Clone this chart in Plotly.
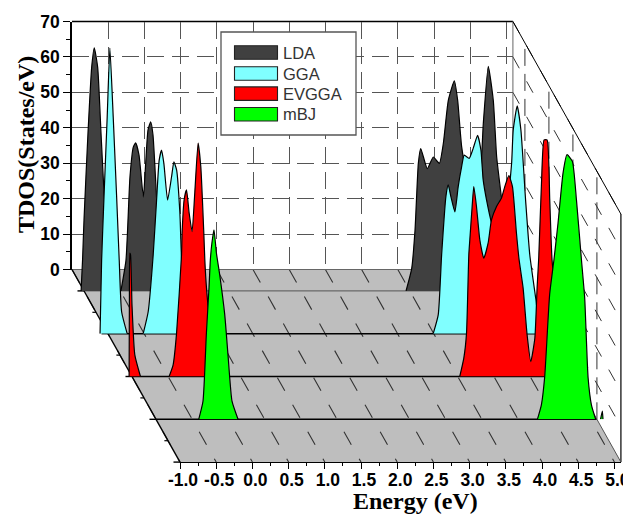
import plotly.graph_objects as go

W, H = 631, 515
BODY = 8

labels = ["LDA", "GGA", "EVGGA", "mBJ"]
colors = ["#404040", "#80FFFF", "#FF0000", "#00FF00"]
layers = [1, 2, 3, 4]

lda_e = [-1.04,-1.02,-1.0,-0.945,-0.894,-0.858,-0.811,-0.765,-0.724,-0.669,-0.60,-0.53,None,-0.49,-0.42,-0.365,-0.319,-0.286,-0.24,-0.18,-0.148,-0.116,-0.079,-0.047,0.004,0.05,0.105,0.16,None,
         3.448,3.526,3.572,3.618,3.651,3.742,3.825,3.908,3.963,4.032,4.115,4.161,4.217,4.30,4.40,4.47,4.515,4.584,4.653,4.70,4.77,4.85,4.95]
lda_v = [0,8.7,20,44.5,63.1,68.6,63.1,44.5,28,11.5,3,0,None,0,8.7,32.2,40.6,41.8,38.3,26.5,36,45.4,47.7,44,25.6,11.5,3,0,None,
         0,6.3,17.1,36,40.2,34.5,37.8,36,41.6,53.8,59.3,53.8,40.6,32,30,32.7,47.2,63.4,53.8,37.8,25.6,10,0]

gga_e = [-1.11,-1.088,-1.057,-1.011,-0.974,-0.928,-0.881,-0.845,-0.812,-0.735,None,-0.514,-0.445,-0.376,-0.329,-0.293,-0.26,-0.228,-0.177,-0.122,-0.09,-0.052,-0.007,0.017,0.06,0.13,0.2,None,
         3.492,3.561,3.608,3.667,3.699,3.736,3.791,3.837,3.884,3.92,3.989,4.044,4.105,4.151,4.182,4.229,4.298,4.413,4.482,4.575,4.597,4.652,4.703,4.768,4.826,4.911,4.965,5.03]
gga_v = [0,20.8,37.7,61.2,80.6,61.2,38.7,20.8,6.2,0,None,0,6.2,22.2,37.7,49,51.8,48,37.7,44.3,48.5,46.2,34,20.8,12,2.5,0,None,
         0,5.3,22.2,38.7,42,38.7,34.4,41.5,47.1,50.4,49.5,52.3,56,51.8,43.4,37.7,31.2,23.6,29.3,48.2,57.5,64.3,57.5,37.7,22.2,9.5,1,0]

evgga_e = [-1.04,-1.036,-1.03,-1.02,-1.0,-0.961,-0.883,None,-0.487,-0.432,-0.385,-0.316,-0.308,-0.28,-0.247,-0.211,-0.17,-0.133,-0.087,-0.05,-0.008,0.006,0.029,0.10,0.185,0.24,None,
           3.527,3.583,3.62,3.652,3.666,3.698,3.721,3.758,3.804,3.859,3.919,3.965,4.035,4.104,4.149,4.205,4.255,4.31,4.347,4.402,4.457,4.508,4.564,4.595,4.618,4.656,4.692,4.733,4.77,4.802,4.91,5.05,5.12]
evgga_v = [0,21.6,34.8,34.3,20.2,6.1,0,None,0,3.3,12.1,34.3,40.6,49.9,52.7,46.2,40.9,51.8,65.9,59.3,40.5,32.9,25,10.4,1.9,0,None,
           0,5.2,12.1,34.3,38.6,48,53.6,48,38.6,33.4,37.7,44.2,48,50.4,53.6,56.7,53.6,40.5,32.9,25,11.8,4.2,10.8,25,33.5,54.6,66.8,66.8,49.9,32.9,13.2,1.9,0]

mbj_e = [-0.41,-0.351,-0.304,-0.268,-0.249,-0.227,-0.199,-0.166,-0.12,-0.051,-0.006,0.05,0.133,None,
         4.268,4.323,4.369,4.437,4.497,4.553,4.622,4.677,4.751,4.807,4.876,4.921,4.968,5.014,5.073,None,5.14,5.165,5.174]
mbj_v = [0,5.1,24.3,37.1,45.1,49.9,53.5,47,40.8,29.6,18.3,5.1,0,None,
         0,4.1,12.1,35.2,45.1,55.4,69.5,74.7,72.8,62,45.1,34.3,11.8,4.1,0,None,0,2.3,0]

series_e = [lda_e, gga_e, evgga_e, mbj_e]
series_v = [lda_v, gga_v, evgga_v, mbj_v]

x_ticks_major = [-1.0,-0.5,0.0,0.5,1.0,1.5,2.0,2.5,3.0,3.5,4.0,4.5,5.0]
y_ticks_major = [0,10,20,30,40,50,60,70]
z_ticks_major = [1,2,3,4,5]
z_ticks_minor = [1.5,2.5,3.5,4.5]

E0, E1 = -1.0, 5.09
Z0, Z1 = 0.5, 5.0
Y1 = 70.0
PX_E = 72.4
PX_V = 248 / 70
X_BACK, Y_BACK = 72.0, 269.5
DX_Z, DY_Z = 24.0, 42.8
FW, FH = W - BODY, H - BODY

def px(e, z):
    return X_BACK + (e - E0) * PX_E + (z - Z0) * DX_Z

def py(v, z):
    return Y_BACK + (z - Z0) * DY_Z - v * PX_V

def fx(p):
    return (p - BODY) / FW

def fy(p):
    return 1 - (p - BODY) / FH

def xdom(a, b, z):
    return [fx(px(a, z)), fx(px(b, z))]

def ydom(top, z):
    return [fy(py(0, z)), fy(py(top, z))]

def seg(e0, v0, z0, e1, v1, z1, color, width, dash=None):
    line = dict(color=color, width=width)
    if dash:
        line["dash"] = dash
    return dict(type="line", xref="paper", yref="paper", layer="below",
                x0=fx(px(e0, z0)), y0=fy(py(v0, z0)),
                x1=fx(px(e1, z1)), y1=fy(py(v1, z1)), line=line)

def poly(points, fill):
    path = "M " + " L ".join(f"{fx(px(e, z))},{fy(py(v, z))}" for e, v, z in points) + " Z"
    return dict(type="path", xref="paper", yref="paper", layer="below", path=path,
                fillcolor=fill, line=dict(width=0))

def box(x0, y0, x1, y1, fill, edge, width):
    return dict(type="rect", xref="paper", yref="paper", layer="above",
                x0=fx(x0), x1=fx(x1), y0=fy(y0), y1=fy(y1), fillcolor=fill,
                line=dict(color=edge, width=width))

shapes = [poly([(E0, 0, Z0), (E1, 0, Z0), (E1, 0, Z1), (E0, 0, Z1)], "#BEBEBE")]
FLOOR_DASH = "15px,16px"
WALL_DASH = "13px,15px"
for e in x_ticks_major:
    shapes.append(seg(e, 0, Z0, e, 0, Z1, "#333333", 1.1, FLOOR_DASH))
for v in y_ticks_major[1:]:
    shapes.append(seg(E1, v, Z0, E1, v, Z1, "#333333", 1.0, WALL_DASH))
for z in z_ticks_major[:-1]:
    shapes.append(seg(E1, 0, z, E1, Y1, z, "#333333", 1.0, "17px,8px"))
for z in z_ticks_major[:-1]:
    shapes.append(seg(E0, 0, z, E1, 0, z, "#555555" if z == 1 else "#000000", 1.0 if z == 1 else 1.6))
shapes += [
    seg(E0, 0, Z0, E1, 0, Z0, "#666666", 1.0),
    seg(E0, Y1, Z0, E1, Y1, Z0, "#000000", 1.5),
    seg(E1, 0, Z0, E1, Y1, Z0, "#666666", 1.0),
    seg(E1, Y1, Z0, E1, Y1, Z1, "#000000", 1.0),
    seg(E1, 0, Z1, E1, Y1, Z1, "#000000", 1.2),
    seg(E1, 0, Z0, E1, 0, Z1, "#555555", 1.0),
    seg(E0, 0, Z0, E0, 0, Z1, "#000000", 1.4),
]
for z in z_ticks_major:
    shapes.append(seg(E0 - 0.09, 0, z, E0, 0, z, "#000000", 1.4))
for z in z_ticks_minor:
    shapes.append(seg(E0 - 0.05, 0, z, E0, 0, z, "#000000", 1.2))

# legend panel
shapes.append(box(221, 32, 356, 135, "white", "#555555", 1.3))
LEG_TOP = [45.7, 66.7, 86.9, 107.5]
annotations = [
    dict(text="TDOS(States/eV)", xref="paper", yref="paper", x=fx(26), y=fy(145), showarrow=False,
         textangle=-90, font=dict(family="Liberation Serif", size=24, color="#000000", weight="bold"),
         xanchor="center", yanchor="middle"),
    dict(text="Energy (eV)", xref="paper", yref="paper", x=fx(415), y=fy(501), showarrow=False,
         font=dict(family="Liberation Serif", size=24, color="#000000", weight="bold"),
         xanchor="center", yanchor="middle"),
]
for name, color, top in zip(labels, colors, LEG_TOP):
    shapes.append(box(234.5, top, 277.5, top + 13.5, color, "#222222", 1.1))
    annotations.append(dict(text=name, xref="paper", yref="paper", x=fx(281), y=fy(top + 7), showarrow=False,
                            xanchor="left", yanchor="middle",
                            font=dict(family="Liberation Sans", size=16.5, color="#333333")))

TICK_FONT = dict(family="Liberation Sans", size=17.5, color="#000000", weight="bold")

layout = dict(
    template="none",
    width=FW, height=FH, autosize=False,
    margin=dict(l=0, r=0, t=0, b=0, pad=0),
    paper_bgcolor="white", plot_bgcolor="rgba(0,0,0,0)",
    shapes=shapes,
    showlegend=False,
    xaxis=dict(domain=xdom(E0, E1, Z0), range=[E0, E1], anchor="y", showline=False, automargin=False,
               showticklabels=False, ticks="", zeroline=False, tickvals=x_ticks_major,
               showgrid=True, griddash="17px,8px", gridcolor="#555555", gridwidth=1.2),
    yaxis=dict(domain=ydom(Y1, Z0), range=[0, Y1], anchor="x", showline=True, linecolor="#000000", automargin=False,
               linewidth=1.5, ticks="outside", ticklen=7, tickwidth=1.4, tickcolor="#000000",
               tickvals=y_ticks_major, tickfont=TICK_FONT, zeroline=False,
               minor=dict(dtick=5, ticks="outside", ticklen=4, tickwidth=1.2, tickcolor="#000000", showgrid=False),
               showgrid=True, griddash="17px,8px", gridcolor="#555555", gridwidth=1.2),
    annotations=annotations,
)

fig = go.Figure()
fig.add_trace(go.Scatter(x=[], y=[], xaxis="x", yaxis="y", showlegend=False, hoverinfo="skip"))

LAYER_E = (-1.25, 5.3)
LAYER_TOPS = [72, 82, 82, 82]
for i, (name, color, z, xs, ys, top) in enumerate(zip(labels, colors, layers, series_e, series_v, LAYER_TOPS)):
    n = i + 2
    layout[f"xaxis{n}"] = dict(domain=xdom(*LAYER_E, z), range=list(LAYER_E), anchor=f"y{n}", visible=False)
    layout[f"yaxis{n}"] = dict(domain=ydom(top, z), range=[0, top], anchor=f"x{n}", visible=False)
    fig.add_trace(go.Scatter(x=xs, y=ys, name=name, mode="lines", fill="tozeroy", fillcolor=color,
                             line=dict(color="#000000", width=1.2, shape="spline", smoothing=0.5),
                             xaxis=f"x{n}", yaxis=f"y{n}"))

# front axis carrying the energy ticks
layout["xaxis6"] = dict(domain=xdom(E0, E1, Z1), range=[E0, E1], anchor="y6", showline=True, automargin=False,
                        linecolor="#000000", linewidth=1.4, ticks="outside", ticklen=6, tickwidth=1.4,
                        tickcolor="#000000", tickvals=x_ticks_major, ticktext=[f"{t:.1f}" for t in x_ticks_major],
                        tickfont=TICK_FONT, zeroline=False, showgrid=False,
                        ticklabelstandoff=-4, ticklabelshift=3,
                        minor=dict(dtick=0.25, ticks="outside", ticklen=3, tickwidth=1.2, tickcolor="#000000", showgrid=False))
layout["yaxis6"] = dict(domain=ydom(Y1, Z1), range=[0, Y1], anchor="x6", visible=False)
fig.add_trace(go.Scatter(x=[], y=[], xaxis="x6", yaxis="y6", showlegend=False, hoverinfo="skip"))

fig.update_layout(**layout)
fig.write_html("out.html")
